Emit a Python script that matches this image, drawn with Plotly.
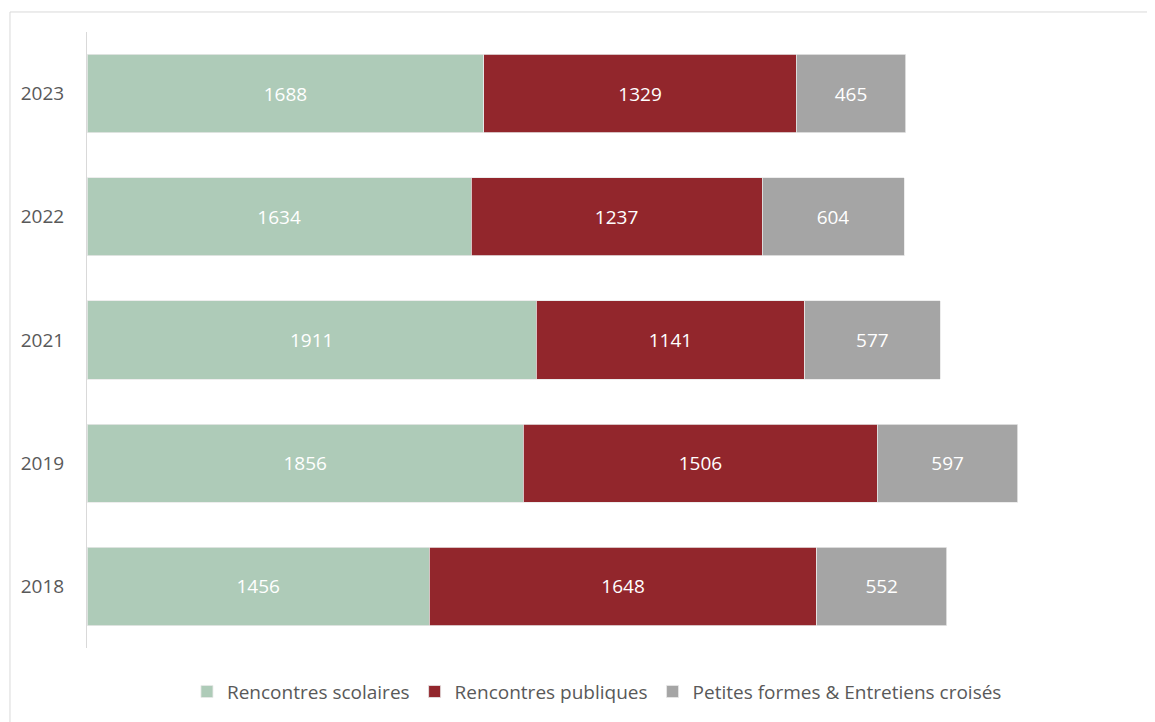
import plotly.graph_objects as go

years = ["2018", "2019", "2021", "2022", "2023"]
scolaires = [1456, 1856, 1911, 1634, 1688]
publiques = [1648, 1506, 1141, 1237, 1329]
petites = [552, 597, 577, 604, 465]

series = [
    ("Rencontres scolaires", scolaires, "#AECBB8"),
    ("Rencontres publiques", publiques, "#92262C"),
    ("Petites formes & Entretiens croisés", petites, "#A5A5A5"),
]

fig = go.Figure()
for name, vals, color in series:
    fig.add_trace(go.Bar(
        y=years,
        x=vals,
        name=name,
        orientation="h",
        marker=dict(color=color, line=dict(color="#E8E8E8", width=0.8)),
        text=vals,
        textposition="inside",
        insidetextanchor="middle",
        textangle=0,
        constraintext="none",
        textfont=dict(color="white", size=19, family="Open Sans"),
    ))

# page has an 8px offset, so figure is sized/margined to compensate
fig.update_layout(
    barmode="stack",
    bargap=0.365,
    width=1147,
    height=714,
    margin=dict(l=79, r=10, t=24, b=74),
    plot_bgcolor="white",
    paper_bgcolor="white",
    font=dict(family="Open Sans", color="#595959"),
    xaxis=dict(range=[0, 4500], visible=False, fixedrange=True),
    yaxis=dict(
        type="category",
        range=[-0.5, 4.5],
        showline=True,
        linecolor="#D9D9D9",
        linewidth=1,
        showgrid=False,
        ticks="",
        ticklabelstandoff=18,
        tickfont=dict(size=19, color="#595959"),
    ),
    legend=dict(
        orientation="h",
        x=0.482,
        xanchor="center",
        y=-0.04,
        yanchor="top",
        font=dict(size=19, color="#595959"),
        traceorder="normal",
        itemwidth=30,
    ),
    showlegend=True,
    shapes=[dict(
        type="rect",
        xref="paper",
        yref="paper",
        x0=-0.0728,
        x1=1.0047,
        y0=-0.13,
        y1=1.0325,
        line=dict(color="#D9D9D9", width=1),
    )],
)

fig.write_html("out.html")
